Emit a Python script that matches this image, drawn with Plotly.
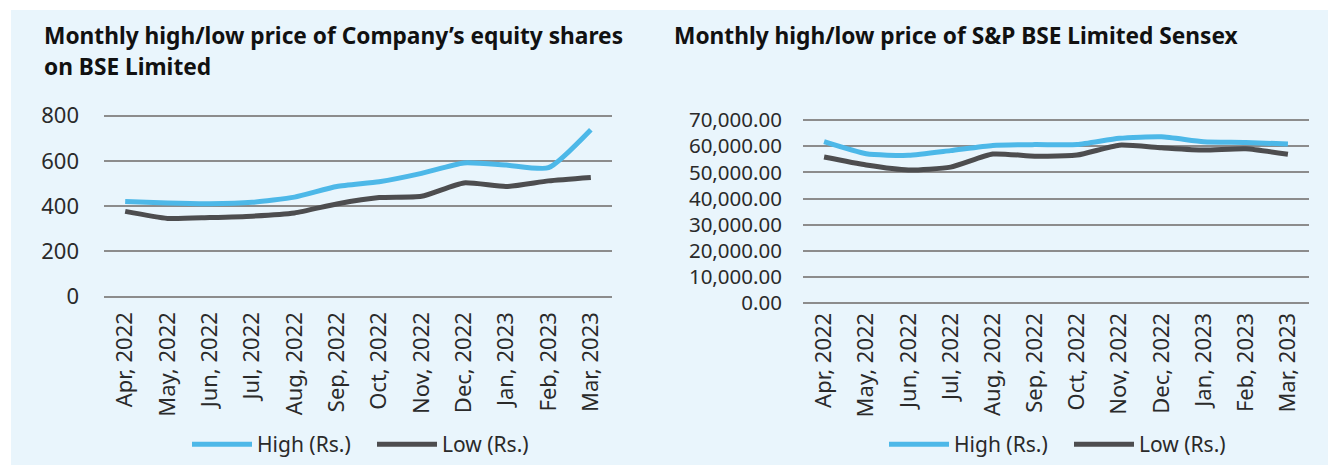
import plotly.graph_objects as go

months = ["Apr, 2022", "May, 2022", "Jun, 2022", "Jul, 2022", "Aug, 2022", "Sep, 2022",
          "Oct, 2022", "Nov, 2022", "Dec, 2022", "Jan, 2023", "Feb, 2023", "Mar, 2023"]

company_high = [421, 414, 411, 417, 440, 487, 508, 545, 591, 582, 570, 738]
company_low = [377, 346, 350, 356, 370, 410, 438, 444, 503, 487, 512, 527]

sensex_high = [61700, 57100, 56500, 58300, 60300, 60600, 60600, 63000, 63600, 61700, 61450, 60800]
sensex_low = [55850, 52800, 50900, 52000, 57000, 56200, 56600, 60400, 59400, 58500, 59000, 56900]

left_ticks = [0, 200, 400, 600, 800]
right_ticks = [0, 10000, 20000, 30000, 40000, 50000, 60000, 70000]

left_title_1 = "Monthly high/low price of Company\u2019s equity shares"
left_title_2 = "on BSE Limited"
right_title = "Monthly high/low price of S&amp;P BSE Limited Sensex"

BLUE = "#4DB8E8"
GREY = "#4D4D4F"
BG = "#E9F5FC"
W, H = 1328, 465
FONT = "Noto Sans"
TXT = "#2A2A2A"


def ydom(top_px, bot_px, pad_frac):
    span = bot_px - top_px
    return [1 - (bot_px + span * pad_frac) / H, 1 - (top_px - span * pad_frac) / H]


PAD = 0.006
line_kw = dict(shape="spline", smoothing=0.55, width=5)

fig = go.Figure()
fig.add_trace(go.Scatter(x=months, y=company_high, name="High (Rs.)", mode="lines",
                         line=dict(color=BLUE, **line_kw), xaxis="x", yaxis="y", legend="legend"))
fig.add_trace(go.Scatter(x=months, y=company_low, name="Low (Rs.)", mode="lines",
                         line=dict(color=GREY, **line_kw), xaxis="x", yaxis="y", legend="legend"))
fig.add_trace(go.Scatter(x=months, y=sensex_high, name="High (Rs.)", mode="lines",
                         line=dict(color=BLUE, **line_kw), xaxis="x2", yaxis="y2", legend="legend2"))
fig.add_trace(go.Scatter(x=months, y=sensex_low, name="Low (Rs.)", mode="lines",
                         line=dict(color=GREY, **line_kw), xaxis="x2", yaxis="y2", legend="legend2"))

tickfont = dict(family=FONT, size=22, color=TXT)
tickfont_r = dict(family=FONT, size=20.5, color=TXT)
grid = dict(showgrid=True, gridcolor="#8C8C8C", gridwidth=1.5, zeroline=False,
            showline=False, ticks="", automargin=False)
xcommon = dict(tickangle=-90, tickfont=tickfont, showgrid=False, showline=False, ticks="",
               range=[-0.5, 11.5], automargin=False, zeroline=False)

leg = dict(orientation="h", xanchor="center", yanchor="bottom", y=0.0,
           font=dict(family=FONT, size=21, color=TXT), bgcolor="rgba(0,0,0,0)",
           itemwidth=60, tracegroupgap=0, entrywidth=110, entrywidthmode="pixels")

fig.update_layout(
    width=W, height=H,
    margin=dict(l=0, r=0, t=0, b=0, pad=0),
    paper_bgcolor="white",
    plot_bgcolor="rgba(0,0,0,0)",
    font=dict(family=FONT, color=TXT),
    xaxis=dict(domain=[104 / W, 612 / W], anchor="y", ticklabelstandoff=9, **xcommon),
    yaxis=dict(domain=ydom(115.7, 296.7, PAD), anchor="x",
               range=[-800 * PAD, 800 * (1 + PAD)], tickvals=left_ticks,
               tickfont=tickfont, ticklabelstandoff=24, **grid),
    xaxis2=dict(domain=[803 / W, 1309 / W], anchor="y2", ticklabelstandoff=3, **xcommon),
    yaxis2=dict(domain=ydom(120, 303.3, PAD), anchor="x2",
                range=[-70000 * PAD, 70000 * (1 + PAD)], tickvals=right_ticks,
                tickformat=",.2f", tickfont=tickfont_r, ticklabelstandoff=20, **grid),
    legend=dict(x=372 / W, **leg),
    legend2=dict(x=1069 / W, **leg),
    shapes=[dict(type="rect", xref="paper", yref="paper", x0=11 / W, x1=1, y0=0, y1=1 - 10 / H,
                 fillcolor=BG, line=dict(width=0), layer="below")],
    annotations=[
        dict(text="<b>" + left_title_1 + "</b>", xref="paper", yref="paper", x=42 / W, y=1 - 35 / H,
             xanchor="left", yanchor="middle", showarrow=False,
             font=dict(family=FONT, size=22.7, color="#111111")),
        dict(text="<b>" + left_title_2 + "</b>", xref="paper", yref="paper", x=42 / W, y=1 - 66 / H,
             xanchor="left", yanchor="middle", showarrow=False,
             font=dict(family=FONT, size=22.7, color="#111111")),
        dict(text="<b>" + right_title + "</b>", xref="paper", yref="paper", x=672 / W, y=1 - 35 / H,
             xanchor="left", yanchor="middle", showarrow=False,
             font=dict(family=FONT, size=22.7, color="#111111")),
    ],
)

fig.write_html("out.html")
